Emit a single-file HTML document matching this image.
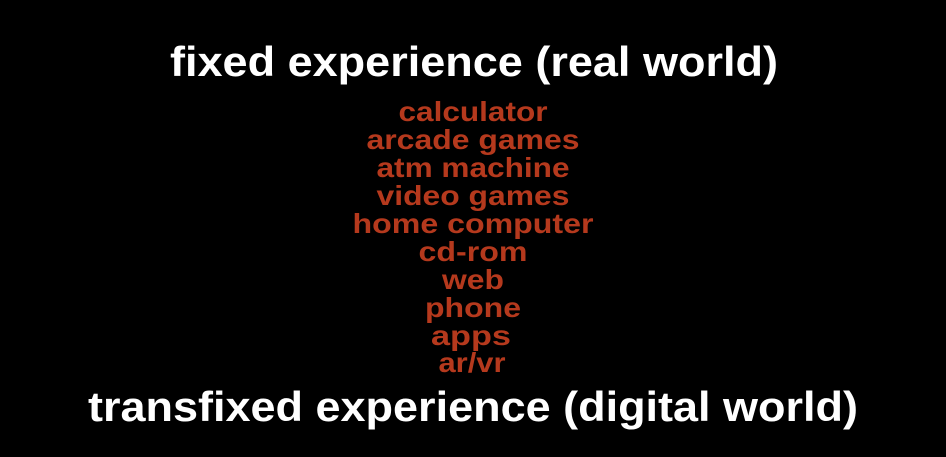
<!DOCTYPE html>
<html><head><meta charset="utf-8"><style>
html,body{margin:0;padding:0;background:#000;}
svg{display:block;}
text{font-family:"Liberation Sans",sans-serif;font-weight:bold;}
</style></head><body>
<svg width="946" height="457" viewBox="0 0 946 457">
<rect width="946" height="457" fill="#000"/>
<text x="474" y="76" fill="#fff" font-size="42" text-anchor="middle" textLength="608" lengthAdjust="spacingAndGlyphs">fixed experience (real world)</text>
<g fill="#b5391d" font-size="28" font-weight="normal" text-anchor="middle">
<text x="473" y="121" textLength="149" lengthAdjust="spacingAndGlyphs">calculator</text>
<text x="473" y="149" textLength="213" lengthAdjust="spacingAndGlyphs">arcade games</text>
<text x="473" y="177" textLength="193" lengthAdjust="spacingAndGlyphs">atm machine</text>
<text x="473" y="205" textLength="193" lengthAdjust="spacingAndGlyphs">video games</text>
<text x="473" y="233" textLength="241" lengthAdjust="spacingAndGlyphs">home computer</text>
<text x="473" y="261" textLength="109" lengthAdjust="spacingAndGlyphs">cd-rom</text>
<text x="473" y="289" textLength="62" lengthAdjust="spacingAndGlyphs">web</text>
<text x="473" y="317" textLength="96" lengthAdjust="spacingAndGlyphs">phone</text>
<text x="471" y="345" textLength="80" lengthAdjust="spacingAndGlyphs">apps</text>
<text x="472" y="372" textLength="67" lengthAdjust="spacingAndGlyphs">ar/vr</text>
</g>
<text x="473" y="421" fill="#fff" font-size="42" text-anchor="middle" textLength="770" lengthAdjust="spacingAndGlyphs">transfixed experience (digital world)</text>
</svg>
</body></html>
